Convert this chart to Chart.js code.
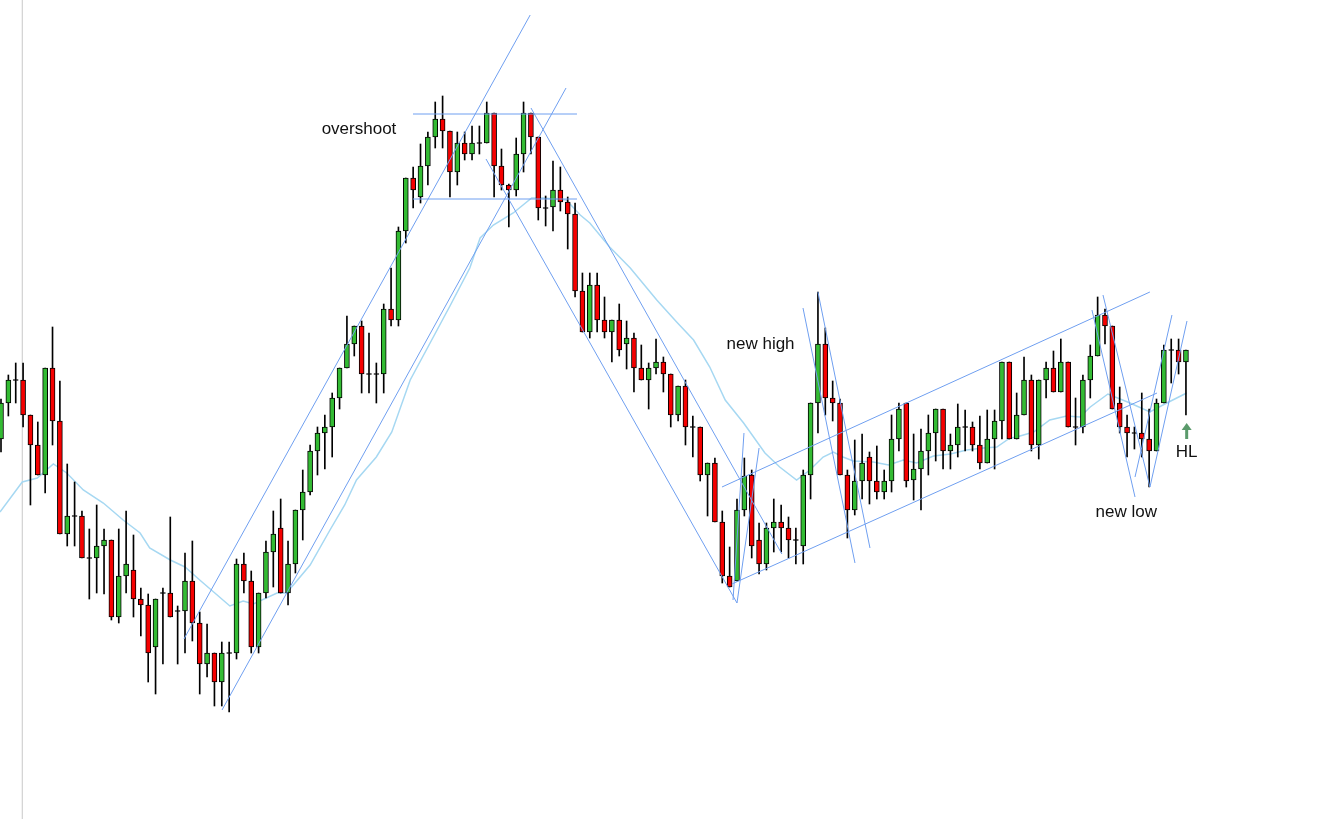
<!DOCTYPE html>
<html lang="en">
<head>
<meta charset="UTF-8">
<title>Swing chart</title>
<script src="https://cdn.jsdelivr.net/npm/chart.js"></script>
<style>
    html, body { margin: 0; padding: 0; background: #fff; }
    #wrap { width: 1338px; height: 819px; position: relative; }
</style>
</head>
<body>
<div id="wrap"><canvas id="priceChart"></canvas></div>
<script>
    // candle prices (index = bar number, values in price points)
    const open = [380,416,439,439,404,374,344,451,398,285, 303,303,261,261,273,279,202,243,249,220,
        214,172,226,226,208,208,238,196,155,166, 137,166,166,255,238,172,226,267,291,226,
        255,309,327,368,386,392,421,451,475,493, 445,445,445,510,499,588,641,622,653,682,
        700,688,647,676,665,676,676,706,653,634, 629,665,706,682,611,612,629,617,605,528,
        487,534,499,487,499,475,481,451,439,451, 457,445,404,433,392,392,344,356,297,243,
        238,309,344,279,255,291,297,291,279,273, 344,416,475,421,416,344,309,338,362,338,
        327,338,380,416,339,350,368,386,410,368, 374,392,392,374,356,380,398,457,380,404,
        439,374,439,451,427,457,392,392,439,463, 504,493,416,392,386,386,380,368,416,469,
        469,457];
    const high = [420,444,456,456,404,397,451,492,438,355, 337,308,290,314,290,279,290,308,284,231,
        225,220,231,302,213,266,278,207,195,166, 177,177,260,266,248,226,278,308,320,278,
        309,349,374,392,404,426,451,503,493,498, 486,456,515,551,592,641,652,675,687,717,
        723,688,687,687,693,693,717,706,670,635, 681,717,706,682,623,658,652,622,616,546,
        546,546,522,499,515,498,486,474,456,480, 462,445,433,439,403,392,356,361,308,272,
        320,361,349,296,296,320,314,302,291,349, 416,527,491,438,420,349,379,385,367,373,
        349,404,416,416,385,390,404,410,410,385, 415,409,397,403,409,409,457,457,426,462,
        444,439,457,468,480,457,421,444,474,522, 510,493,432,404,392,426,410,420,474,480,
        480,469];
    const low = [367,403,416,392,314,344,326,374,285,273, 273,261,220,226,225,199,196,226,202,183,
        137,125,155,202,155,166,178,125,142,113, 113,107,160,226,166,166,221,232,226,214,
        246,279,324,344,350,362,410,451,463,426, 426,416,426,493,493,576,611,616,634,671,
        671,622,634,659,659,665,676,622,629,592, 623,647,665,599,593,588,608,570,522,487,
        481,487,481,457,463,450,427,439,410,445, 427,392,398,374,362,338,303,297,236,232,
        238,303,261,245,249,267,267,261,255,255, 320,386,404,398,344,281,304,320,315,320,
        320,327,368,332,319,309,344,358,350,350, 362,368,368,350,356,350,380,380,380,404,
        368,360,421,427,427,392,374,386,421,463, 475,410,386,362,370,362,332,368,416,436,
        445,404];
    const close = [416,439,439,404,374,344,451,398,285,303, 303,261,261,273,279,202,243,255,220,214,
        166,220,226,202,208,238,196,155,166,137, 166,166,255,238,172,226,267,285,226,255,
        309,327,368,386,392,421,451,475,493,445, 445,445,510,499,588,641,629,653,682,700,
        688,647,676,665,676,676,706,653,634,629, 665,706,682,611,611,629,617,605,528,487,
        534,499,487,499,469,481,451,439,451,457, 445,404,433,392,392,344,356,297,243,232,
        309,343,273,255,291,297,291,279,279,344, 416,475,421,416,344,309,338,356,338,327,
        338,380,410,338,350,368,386,410,368,374, 392,392,374,356,380,398,457,380,404,439,
        374,439,451,427,457,392,392,439,463,504, 493,410,392,386,386,380,368,416,469,469,
        457,469];

    // moving average at these bar positions
    const maIndex = [-0.14,2.89,4.93,7.11,8.93,11.18,13.9,16.6,18.9,20.2,23.0,25.0,27.0,31.1,32.9,34.3,37.5,38.8,
        42.0,44.7,46.7,48.3,51.0,53.1,55.6,58.3,61.0,63.7,65.1,66.9,69.6,72.1,73.7,76.8,78.7,80.0,82.7,85.5,
        89.1,91.8,94.1,96.3,98.4,100.9,103.8,105.8,108.1,109.9,111.7,113.1,114.4,115.8,118.5,120.6,122.6,
        124.4,126.7,129.0,131.2,133.5,135.3,137.1,138.0,140.3,142.5,144.8,146.6,148.0,150.4,153.4,156.1,158.4,161.1];
    const maValue = [307,337,341,355,346,329,316,299,286,271,259,252,239,213,218,215,226,226,
        254,289,314,339,362,387,439,476,513,551,581,594,606,621,621,619,604,596,572,551,
        519,497,479,452,419,396,366,352,339,349,362,367,362,358,357,354,359,
        356,363,365,369,371,372,381,382,387,399,403,402,412,425,416,407,416,426];

    // hand-drawn trend lines: [barFrom, priceFrom, barTo, priceTo]
    const trendLines = [
        [24.86, 180, 71.9, 804],
        [30.03, 109, 76.77, 731],
        [55.98, 705, 78.26, 705],
        [55.98, 620, 78.26, 620],
        [72.01, 711, 106.1, 265],
        [65.9, 660, 100.0, 216],
        [97.96, 332, 156.1, 527],
        [99.3, 235, 157.07, 426],
        [100.95, 386, 99.46, 219],
        [103.0, 371, 100.0, 216],
        [108.97, 511, 116.03, 256],
        [111.0, 527, 118.07, 271],
        [148.23, 509, 154.08, 322],
        [149.73, 524, 156.11, 332],
        [154.08, 342, 159.1, 504],
        [156.11, 332, 161.14, 498]
    ];

    const separatorBar = 2.89;

    const notes = [
        { text: 'overshoot', bar: 48.64, price: 690 },
        { text: 'new high', bar: 103.2, price: 475 },
        { text: 'new low', bar: 152.9, price: 307 },
        { text: 'HL', bar: 161.1, price: 367 }
    ];
    const arrowAt = { bar: 161.1, price: 388 };

    const UP = '#33bb33', DOWN = '#f50000';
    const TREND = '#6f9ff0', MA = '#a6d8f2';

    const bars = open.map((_, i) => i);
    const wickData = bars.map(i => ({ x: i, y: [low[i], high[i]] }));
    const bodyData = bars.map(i => {
        const o = open[i], c = close[i];
        if (o === c) return { x: i, y: [o - 0.5, o + 0.5] }; // doji
        return { x: i, y: [Math.min(o, c), Math.max(o, c)] };
    });
    const bodyColors = bars.map(i => close[i] > open[i] ? UP : (close[i] < open[i] ? DOWN : '#000'));

    const lineSets = trendLines.map(t => ({
        type: 'line',
        data: [{ x: t[0], y: t[1] }, { x: t[2], y: t[3] }],
        borderColor: TREND,
        borderWidth: 1,
        pointRadius: 0,
        order: 0
    }));

    const notesPlugin = {
        id: 'notes',
        afterDraw(chart) {
            const { ctx, scales: { x, y } } = chart;
            ctx.save();
            ctx.font = '17px "Liberation Sans", Arial, sans-serif';
            ctx.fillStyle = '#111';
            ctx.textAlign = 'center';
            ctx.textBaseline = 'middle';
            notes.forEach(n => ctx.fillText(n.text, x.getPixelForValue(n.bar), y.getPixelForValue(n.price)));

            // little up arrow above HL
            const ax = x.getPixelForValue(arrowAt.bar), ay = y.getPixelForValue(arrowAt.price);
            ctx.fillStyle = '#5a9a6b';
            ctx.fillRect(ax - 1.5, ay - 1, 3, 9);
            ctx.beginPath();
            ctx.moveTo(ax - 5, ay - 1);
            ctx.lineTo(ax + 5, ay - 1);
            ctx.lineTo(ax, ay - 8);
            ctx.closePath();
            ctx.fill();
            ctx.restore();
        }
    };

    new Chart(document.getElementById('priceChart'), {
        data: {
            datasets: [
                {
                    type: 'line',
                    data: [{ x: separatorBar, y: 0 }, { x: separatorBar, y: 819 }],
                    borderColor: '#c8c8c8',
                    borderWidth: 1,
                    pointRadius: 0,
                    order: 5
                },
                {
                    type: 'line',
                    data: maIndex.map((b, k) => ({ x: b, y: maValue[k] })),
                    borderColor: MA,
                    borderWidth: 1.5,
                    pointRadius: 0,
                    order: 4
                },
                {
                    type: 'bar',
                    data: wickData,
                    backgroundColor: '#000',
                    barThickness: 1,
                    grouped: false,
                    order: 3
                },
                {
                    type: 'bar',
                    data: bodyData,
                    backgroundColor: bodyColors,
                    borderColor: '#000',
                    borderWidth: 1,
                    borderSkipped: false,
                    barThickness: 5,
                    grouped: false,
                    order: 2
                },
                ...lineSets
            ]
        },
        options: {
            responsive: true,
            maintainAspectRatio: false,
            animation: false,
            events: [],
            layout: { padding: 0 },
            plugins: {
                legend: { display: false },
                tooltip: { enabled: false }
            },
            scales: {
                x: { type: 'linear', min: -0.136, max: 181.66, offset: false, display: false },
                y: { type: 'linear', min: 0, max: 819, display: false }
            }
        },
        plugins: [notesPlugin]
    });
</script>
</body>
</html>
